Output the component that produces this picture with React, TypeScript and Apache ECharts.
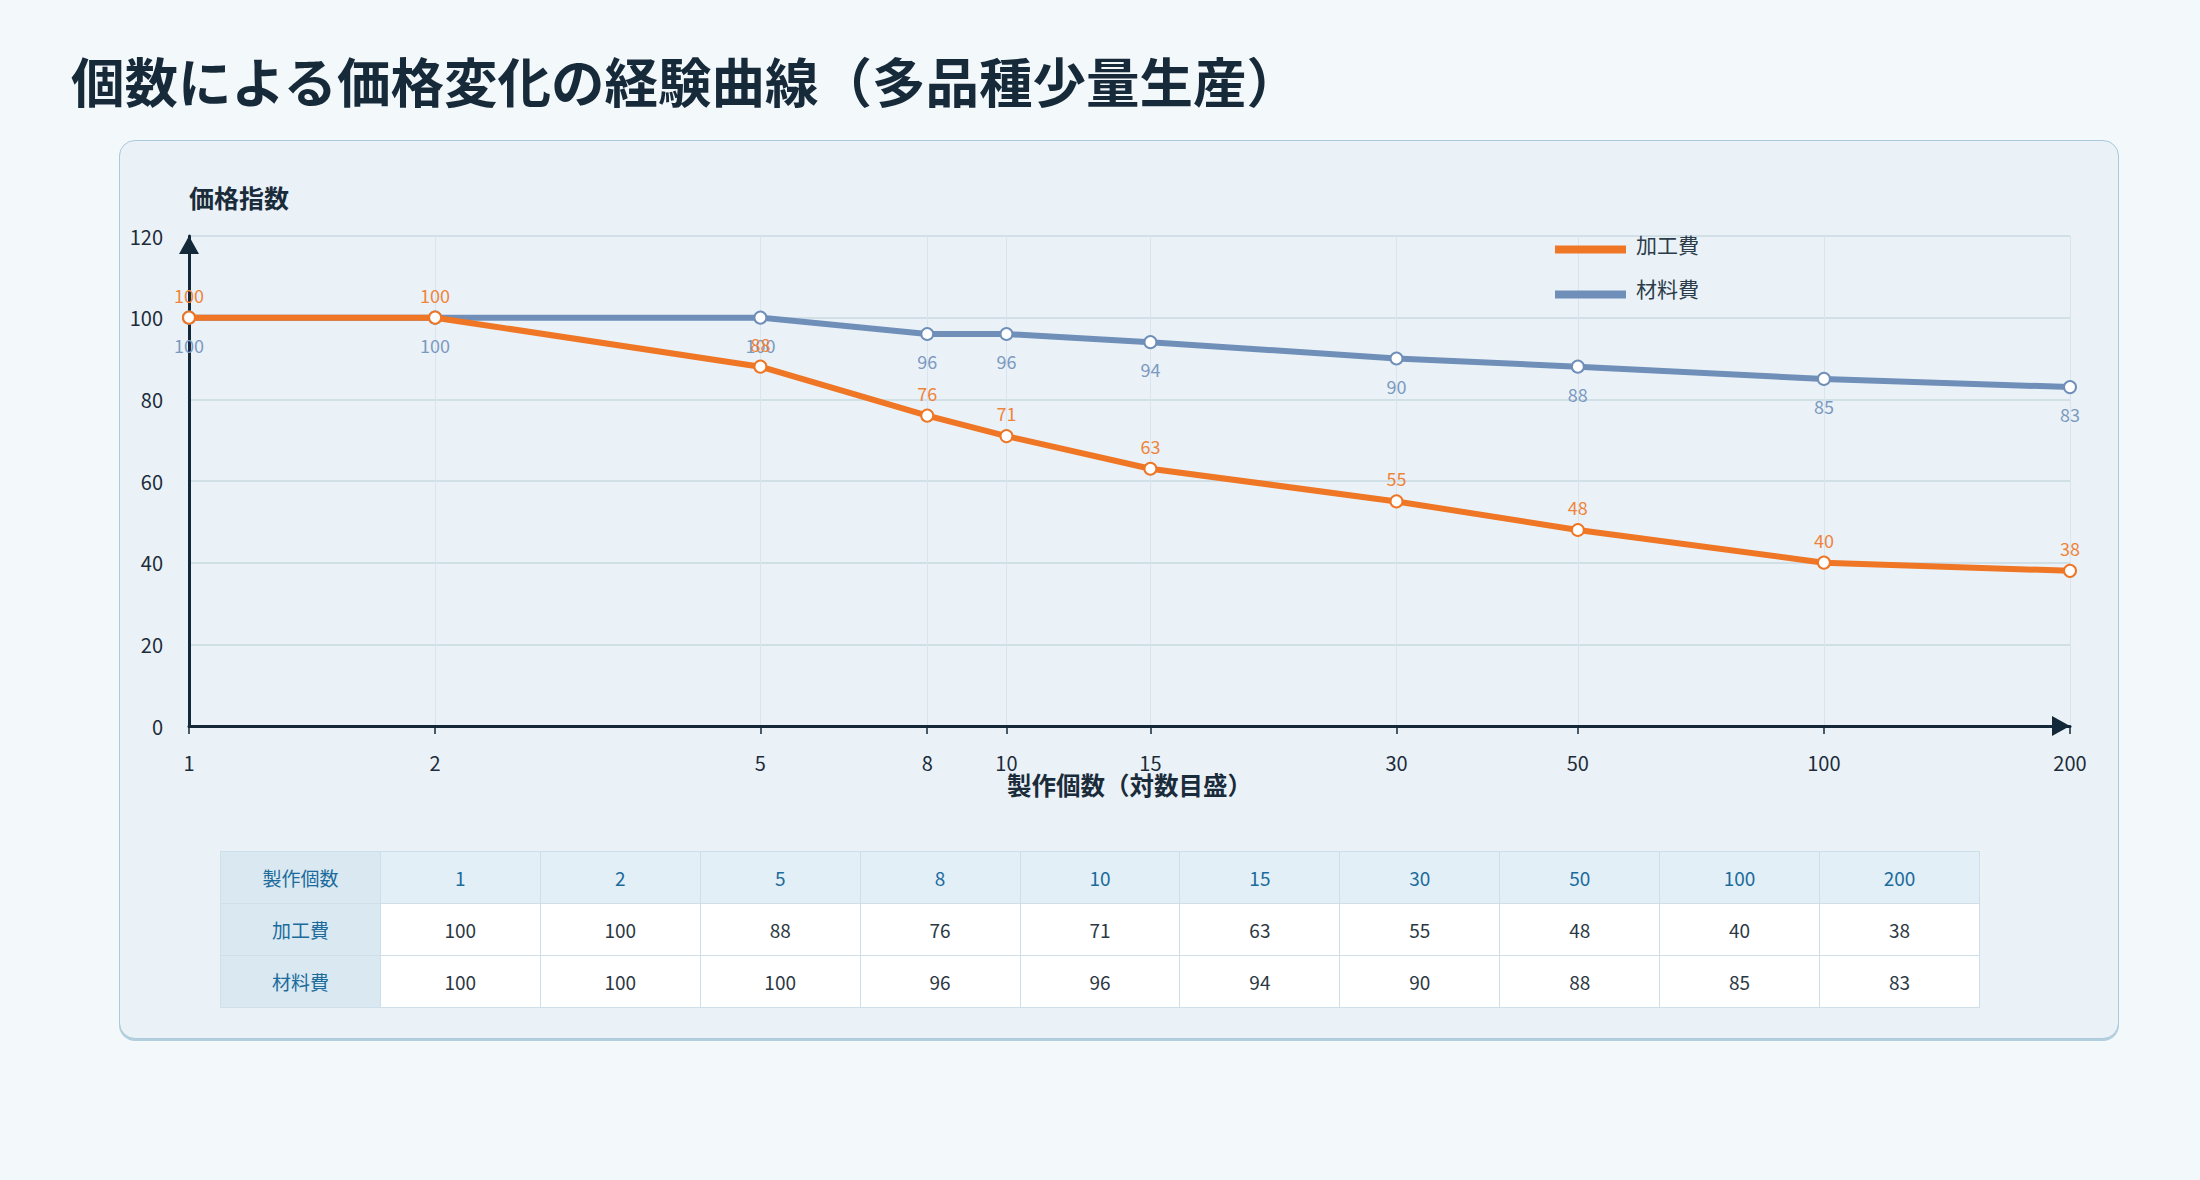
import React, { useEffect, useRef } from "react";
import * as echarts from "echarts";

const titleText = "個数による価格変化の経験曲線（多品種少量生産）";
const yAxisName = "価格指数";
const xAxisName = "製作個数（対数目盛）";
const tableHeadLabel = "製作個数";
const counts = [1, 2, 5, 8, 10, 15, 30, 50, 100, 200];
const seriesNames = ["加工費", "材料費"];
const processingCost = [100, 100, 88, 76, 71, 63, 55, 48, 40, 38];
const materialCost = [100, 100, 100, 96, 96, 94, 90, 88, 85, 83];

const FONT = '"Noto Sans CJK JP", "Noto Sans", sans-serif';
const ORANGE = "#ef7624";
const BLUE = "#6f8fb9";
const DARK = "#13293a";

export default function App() {
  const ref = useRef<HTMLDivElement>(null);

  useEffect(() => {
    if (!ref.current) return;
    const chart = echarts.init(ref.current, undefined, { renderer: "svg" });
    const logTicks = counts.map((c) => Math.log10(c));
    const toPts = (vals: number[]) => counts.map((c, i) => [Math.log10(c), vals[i]]);
    chart.setOption({
      animation: false,
      textStyle: { fontFamily: FONT },
      grid: { left: 189, top: 236, width: 1881, height: 490, containLabel: false },
      legend: {
        data: [seriesNames[0], seriesNames[1]],
        orient: "vertical",
        left: 1550,
        top: 228,
        icon: "rect",
        itemWidth: 71,
        itemHeight: 8,
        itemGap: 24,
        formatter: (name: string) => `{t|${name}}`,
        textStyle: {
          fontSize: 21,
          color: "#2d3c4a",
          fontFamily: FONT,
          rich: { t: { fontSize: 21, color: "#2d3c4a", fontFamily: FONT, padding: [0, 0, 12, 5] } },
        },
      },
      xAxis: {
        type: "value",
        min: 0,
        max: Math.log10(200),
        name: xAxisName,
        nameLocation: "middle",
        nameGap: 46,
        nameMoveOverlap: false,
        nameTextStyle: { fontSize: 24.5, fontWeight: "bold", color: "#1a2b3a", fontFamily: FONT },
        axisLine: {
          show: true,
          lineStyle: { color: DARK, width: 3 },
          symbol: ["none", "triangle"],
          symbolSize: [20, 18],
          symbolOffset: [0, -9],
        },
        axisTick: { show: true, length: 8, lineStyle: { color: DARK, width: 1.5 }, customValues: logTicks },
        axisLabel: {
          fontSize: 20,
          color: "#1d2c3a",
          margin: 26,
          customValues: logTicks,
          formatter: (v: number) => String(Math.round(Math.pow(10, v))),
        },
        splitLine: { show: true, lineStyle: { color: "#d9e5ee", width: 1 }, customValues: logTicks },
      },
      yAxis: {
        type: "value",
        min: 0,
        max: 120,
        interval: 20,
        name: yAxisName,
        nameLocation: "end",
        nameGap: 27,
        nameMoveOverlap: false,
        nameTextStyle: { fontSize: 25, fontWeight: "bold", color: "#1a2b3a", align: "left", fontFamily: FONT },
        axisLine: {
          show: true,
          lineStyle: { color: DARK, width: 3 },
          symbol: ["none", "triangle"],
          symbolSize: [20, 18],
          symbolOffset: [0, -9],
        },
        axisTick: { show: false },
        axisLabel: { fontSize: 20, color: "#1d2c3a", margin: 26 },
        splitLine: { show: true, lineStyle: { color: "#c9d8e2", width: 1.5 } },
      },
      series: [
        {
          name: seriesNames[1],
          type: "line",
          data: toPts(materialCost),
          color: BLUE,
          z: 2,
          lineStyle: { width: 6, color: BLUE },
          symbol: "emptyCircle",
          symbolSize: 12,
          itemStyle: { color: BLUE, borderWidth: 4 },
          label: { show: true, position: "bottom", distance: 11, color: "#7c99c0", fontSize: 18, fontFamily: FONT, formatter: (p: any) => String(p.value[1]) },
        },
        {
          name: seriesNames[0],
          type: "line",
          data: toPts(processingCost),
          color: ORANGE,
          z: 3,
          lineStyle: { width: 6, color: ORANGE },
          symbol: "emptyCircle",
          symbolSize: 12,
          itemStyle: { color: ORANGE, borderWidth: 4 },
          label: { show: true, position: "top", distance: 7, color: "#ef843a", fontSize: 18, fontFamily: FONT, formatter: (p: any) => String(p.value[1]) },
        },
      ],
    });
    return () => chart.dispose();
  }, []);

  const cellBase: React.CSSProperties = {
    border: "1px solid #cfdfea",
    height: 51,
    textAlign: "center",
    verticalAlign: "middle",
    fontSize: 19,
    padding: 0,
  };
  const headCell: React.CSSProperties = { ...cellBase, background: "#e2eff7", color: "#1b6b9c" };
  const firstCol: React.CSSProperties = { ...cellBase, background: "#d9e8f1", color: "#1b6b9c" };
  const dataCell: React.CSSProperties = { ...cellBase, background: "#ffffff", color: "#2b3844" };

  return (
    <div style={{ position: "absolute", left: 0, top: 0, width: 2200, height: 1180, background: "#f3f8fb", fontFamily: FONT, overflow: "hidden" }}>
      <div style={{ position: "absolute", left: 71, top: 50, fontSize: 53.5, lineHeight: "60px", fontWeight: 700, color: "#172a3a", whiteSpace: "nowrap" }}>
        {titleText}
      </div>
      <div
        style={{
          position: "absolute",
          left: 119,
          top: 140,
          width: 2000,
          height: 899,
          boxSizing: "border-box",
          background: "#eaf2f8",
          border: "1.5px solid #abc9da",
          borderRadius: 16,
          boxShadow: "0 2px 0 rgba(150,190,210,0.7)",
        }}
      />
      <div ref={ref} style={{ position: "absolute", left: 0, top: 0, width: 2200, height: 830 }} />
      <table
        style={{
          position: "absolute",
          left: 220,
          top: 851,
          width: 1760,
          borderCollapse: "collapse",
          tableLayout: "fixed",
          border: "1.5px solid #c8dbe7",
        }}
      >
        <tbody>
          <tr>
            <td style={firstCol}>{tableHeadLabel}</td>
            {counts.map((c) => (
              <td key={c} style={headCell}>{c}</td>
            ))}
          </tr>
          <tr>
            <td style={firstCol}>{seriesNames[0]}</td>
            {processingCost.map((v, i) => (
              <td key={i} style={dataCell}>{v}</td>
            ))}
          </tr>
          <tr>
            <td style={firstCol}>{seriesNames[1]}</td>
            {materialCost.map((v, i) => (
              <td key={i} style={dataCell}>{v}</td>
            ))}
          </tr>
        </tbody>
      </table>
    </div>
  );
}
